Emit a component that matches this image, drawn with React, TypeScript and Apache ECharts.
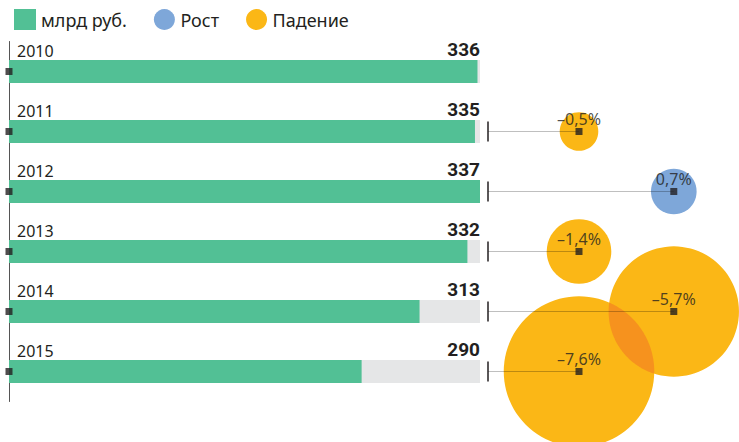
import React, { useEffect, useRef } from "react";
import * as echarts from "echarts";

const years = ["2010", "2011", "2012", "2013", "2014", "2015"];
const revenue = [336, 335, 337, 332, 313, 290];
const growth: (number | null)[] = [null, -0.5, 0.7, -1.4, -5.7, -7.6];
const legendNames = ["млрд руб.", "Рост", "Падение"];

const AXIS_MIN = 150;
const GREEN = "#52c095";
const GREY = "#e5e6e7";
const BLUE = "#7ea7d9";
const ORANGE = "#fbb716";
const OVERLAP = "#f6921e";
const INK = "#231f20";
const FONT = "'Noto Sans', sans-serif";

const fmtPct = (v: number) => (v < 0 ? "–" : "") + Math.abs(v).toFixed(1).replace(".", ",") + "%";
const bubbleDiameter = (g: number) => 54.6 * Math.sqrt(Math.abs(g));

export default function App() {
  const ref = useRef<HTMLDivElement>(null);
  useEffect(() => {
    if (!ref.current) return;
    const chart = echarts.init(ref.current, null, { renderer: "svg" });
    const maxVal = Math.max(...revenue);
    const rows = years.map((_, i) => i).filter((i) => growth[i] !== null);
    const col = (i: number) => (i % 2 === 1 ? 0 : 1);
    const pts = rows.map((i) => [col(i), i, growth[i] as number]);
    const up = pts.filter((p) => p[2] >= 0);
    const down = pts.filter((p) => p[2] < 0);
    const size = (v: number[]) => bubbleDiameter(v[2]);
    const pairs: number[][] = [];
    for (let a = 0; a < down.length; a++)
      for (let b = a + 1; b < down.length; b++) pairs.push([...down[a], ...down[b]]);

    chart.setOption({
      animation: false,
      textStyle: { fontFamily: FONT, color: INK },
      legend: {
        left: 9,
        top: 4,
        itemWidth: 22,
        itemHeight: 21,
        itemGap: 27,
        textStyle: { fontSize: 18, color: INK, fontFamily: FONT },
        data: [
          { name: legendNames[0], icon: "rect" },
          { name: legendNames[1], icon: "circle" },
          { name: legendNames[2], icon: "circle" },
        ],
        selectedMode: false,
      },
      grid: [
        { left: 9, right: 259, top: 41.5, bottom: 40.5, containLabel: false },
        { left: 488, right: 0.75, top: 41.5, bottom: 40.5, containLabel: false },
      ],
      xAxis: [
        { type: "value", gridIndex: 0, min: AXIS_MIN, max: maxVal, show: false },
        { type: "value", gridIndex: 1, min: -0.96, max: 1.68, show: false },
      ],
      yAxis: [
        {
          type: "category",
          gridIndex: 0,
          data: years,
          inverse: true,
          axisLine: { show: true, lineStyle: { color: "#555", width: 1 } },
          axisTick: { show: false },
          axisLabel: { show: false },
          splitLine: { show: false },
        },
        { type: "category", gridIndex: 1, data: years, inverse: true, show: false },
      ],
      series: [
        {
          type: "bar",
          name: "bg",
          xAxisIndex: 0,
          yAxisIndex: 0,
          barWidth: 23,
          barGap: "-100%",
          silent: true,
          itemStyle: { color: GREY },
          data: revenue.map(() => maxVal),
          label: {
            show: true,
            position: ["100%", -1],
            align: "right",
            verticalAlign: "bottom",
            fontSize: 19,
            fontWeight: "bold",
            fontFamily: "Roboto, sans-serif",
            color: INK,
            formatter: (p: any) => String(revenue[p.dataIndex]),
          },
          z: 1,
        },
        {
          type: "bar",
          name: legendNames[0],
          xAxisIndex: 0,
          yAxisIndex: 0,
          barWidth: 23,
          barGap: "-100%",
          itemStyle: { color: GREEN },
          data: revenue,
          label: {
            show: true,
            position: [8, -1],
            align: "left",
            verticalAlign: "bottom",
            fontSize: 16,
            color: INK,
            fontFamily: FONT,
            formatter: (p: any) => p.name,
          },
          z: 2,
        },
        {
          type: "scatter",
          xAxisIndex: 0,
          yAxisIndex: 0,
          symbol: "rect",
          symbolSize: 7,
          itemStyle: { color: INK },
          data: years.map((_, i) => [AXIS_MIN, i]),
          silent: true,
          z: 6,
        },
        {
          type: "scatter",
          name: legendNames[1],
          xAxisIndex: 1,
          yAxisIndex: 1,
          symbol: "circle",
          symbolSize: size,
          itemStyle: { color: BLUE, opacity: 1 },
          data: up,
          z: 2,
        },
        {
          type: "scatter",
          name: legendNames[2],
          xAxisIndex: 1,
          yAxisIndex: 1,
          symbol: "circle",
          symbolSize: size,
          itemStyle: { color: ORANGE, opacity: 1 },
          data: down,
          z: 2,
        },
        {
          type: "custom",
          xAxisIndex: 1,
          yAxisIndex: 1,
          silent: true,
          data: pairs,
          encode: { x: 0, y: 1 },
          renderItem: (params: any, api: any) => {
            const pA = api.coord([api.value(0), api.value(1)]);
            const pB = api.coord([api.value(3), api.value(4)]);
            const rA = bubbleDiameter(api.value(2)) / 2;
            const rB = bubbleDiameter(api.value(5)) / 2;
            const dx = pB[0] - pA[0];
            const dy = pB[1] - pA[1];
            const d = Math.sqrt(dx * dx + dy * dy);
            if (d >= rA + rB) return { type: "group", children: [] };
            const points: number[][] = [];
            const N = 360;
            const angAB = Math.atan2(dy, dx);
            for (let k = 0; k <= N; k++) {
              const t = angAB - Math.PI + (2 * Math.PI * k) / N;
              const x = pA[0] + rA * Math.cos(t);
              const y = pA[1] + rA * Math.sin(t);
              if ((x - pB[0]) ** 2 + (y - pB[1]) ** 2 <= rB * rB) points.push([x, y]);
            }
            const angBA = Math.atan2(-dy, -dx);
            for (let k = 0; k <= N; k++) {
              const t = angBA - Math.PI + (2 * Math.PI * k) / N;
              const x = pB[0] + rB * Math.cos(t);
              const y = pB[1] + rB * Math.sin(t);
              if ((x - pA[0]) ** 2 + (y - pA[1]) ** 2 <= rA * rA) points.push([x, y]);
            }
            return { type: "polygon", shape: { points }, style: { fill: OVERLAP } };
          },
          z: 3,
        },
        {
          type: "custom",
          xAxisIndex: 1,
          yAxisIndex: 1,
          silent: true,
          data: pts,
          renderItem: (params: any, api: any) => {
            const p = api.coord([api.value(0), api.value(1)]);
            const x0 = params.coordSys.x;
            return {
              type: "group",
              children: [
                {
                  type: "line",
                  shape: { x1: x0, y1: p[1], x2: p[0], y2: p[1] },
                  style: { stroke: "rgba(0,0,0,0.25)", lineWidth: 1 },
                },
                {
                  type: "line",
                  shape: { x1: x0, y1: p[1] - 10, x2: x0, y2: p[1] + 10 },
                  style: { stroke: INK, lineWidth: 1.5 },
                },
              ],
            };
          },
          z: 4,
        },
        {
          type: "scatter",
          xAxisIndex: 1,
          yAxisIndex: 1,
          symbol: "rect",
          symbolSize: 7,
          silent: true,
          itemStyle: { color: INK },
          data: pts,
          label: {
            show: true,
            position: "top",
            distance: 1,
            fontSize: 16,
            color: INK,
            fontFamily: FONT,
            formatter: (p: any) => fmtPct(p.value[2]),
          },
          z: 5,
        },
      ],
    });
    return () => chart.dispose();
  }, []);
  return <div ref={ref} style={{ width: 739, height: 442, position: "absolute", left: 0, top: 0 }} />;
}
